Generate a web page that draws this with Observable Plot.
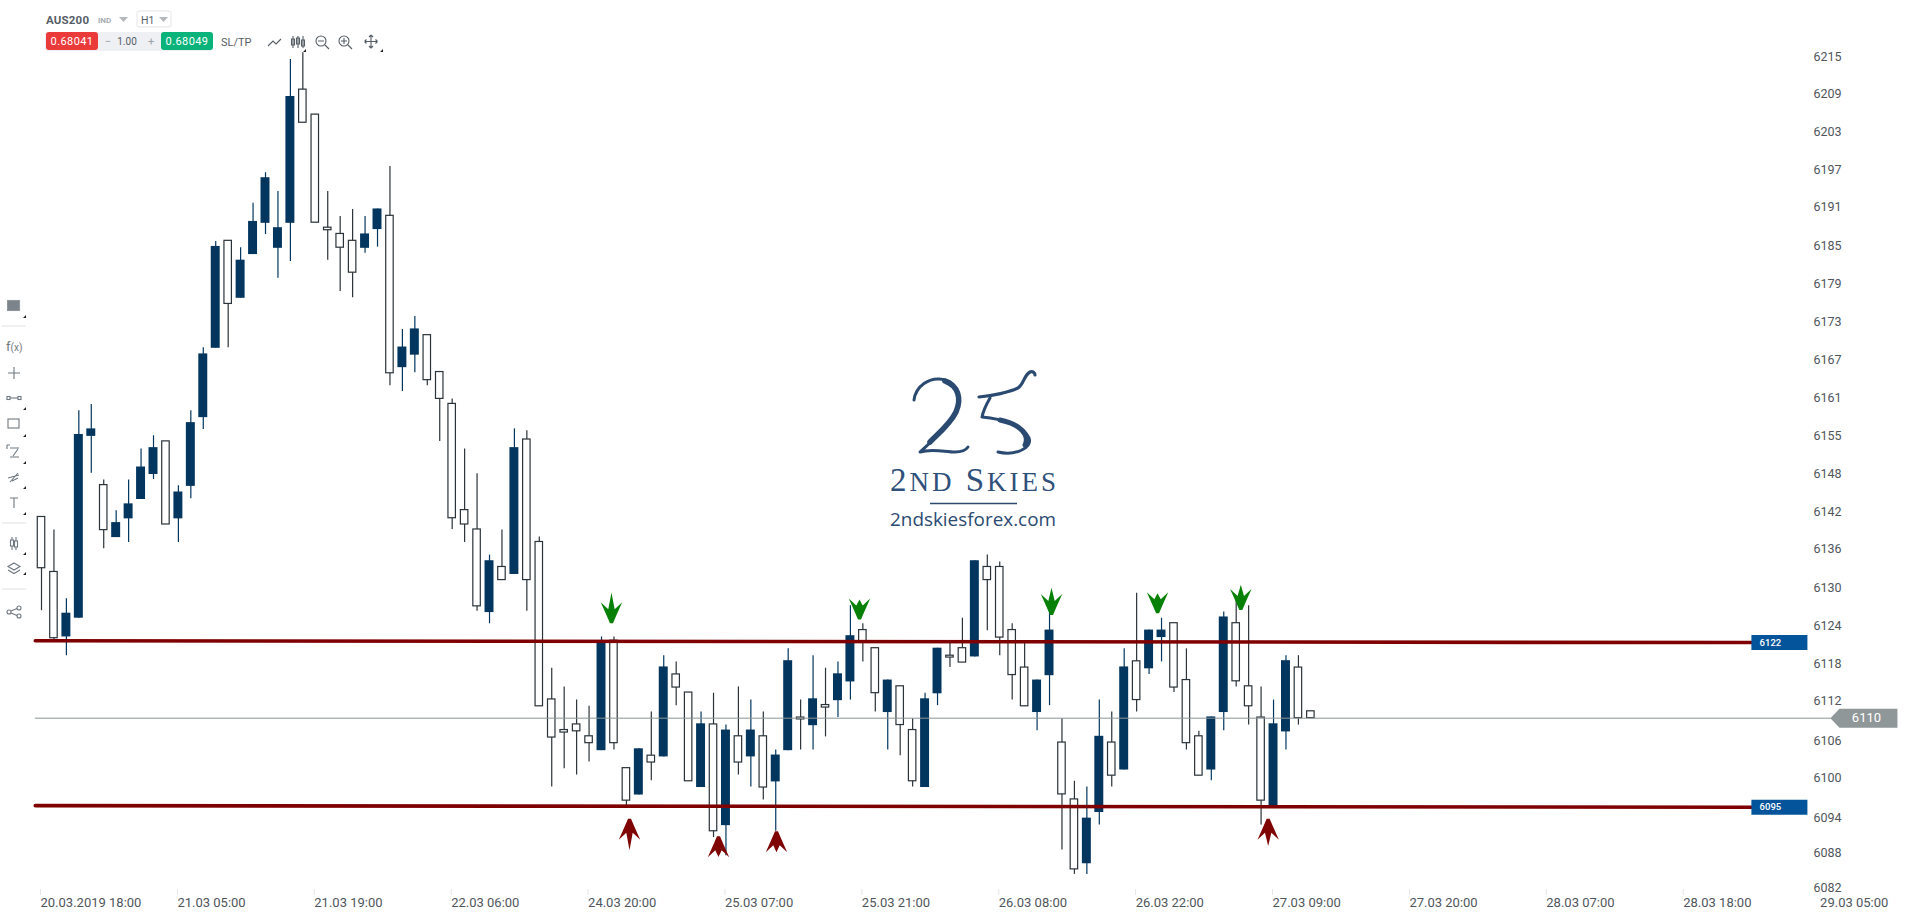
<!DOCTYPE html>
<html>
<head>
<meta charset="utf-8">
<script src="https://cdn.jsdelivr.net/npm/d3@7"></script>
<script src="https://cdn.jsdelivr.net/npm/@observablehq/plot@0.6"></script>
<style>
html,body{margin:0;padding:0;background:#fff;overflow:hidden;width:1907px;height:915px}
#wrap{position:relative;width:1907px;height:915px}
#chart,#overlay{position:absolute;left:0;top:0}
#overlay{pointer-events:none}
#overlay text{font-family:Roboto,sans-serif}
</style>
</head>
<body>
<div id="wrap"><div id="chart"></div>
<svg id="overlay" width="1907" height="915" viewBox="0 0 1907 915" fill="none">
  <!-- top bar -->
  <text x="46" y="24" font-size="11.5" font-weight="700" fill="#565e66" textLength="43">AUS200</text>
  <text x="98" y="23" font-size="8" font-weight="700" fill="#a6acb2">IND</text>
  <path d="M119 17h9l-4.500 5z" fill="#b4b8bc"/>
  <rect x="137" y="11" width="34" height="16" rx="2" fill="#fff" stroke="#e3e5e8"/>
  <text x="141" y="24" font-size="10.500" fill="#565e66">H1</text>
  <path d="M159 17h9l-4.500 5z" fill="#b4b8bc"/>
  <rect x="45" y="32" width="168" height="19" rx="2" fill="#eef0f3"/>
  <rect x="46" y="32" width="52" height="18" rx="3" fill="#ea3a3a"/>
  <text x="72" y="45" font-size="11" fill="#fff" text-anchor="middle" letter-spacing=".4">0.68041</text>
  <text x="108" y="45" font-size="11" fill="#9aa0a6" text-anchor="middle">−</text>
  <text x="127" y="45" font-size="10" fill="#565e66" text-anchor="middle">1.00</text>
  <text x="151" y="45" font-size="11" fill="#9aa0a6" text-anchor="middle">+</text>
  <rect x="161" y="32" width="52" height="18" rx="3" fill="#09b37a"/>
  <text x="187" y="45" font-size="11" fill="#fff" text-anchor="middle" letter-spacing=".4">0.68049</text>
  <text x="221" y="46" font-size="11" fill="#565e66">SL/TP</text>
  <g stroke="#565e66" stroke-width="1.100">
    <path d="M268 46l5-5 3 3 5-5"/>
    <path d="M293 36v12M291.500 39h3v6h-3zM298 36v12M296.500 38h3v6h-3zM303 36v12M301.500 40h3v6h-3z"/>
    <circle cx="321" cy="41" r="5"/><path d="M318 41h6M325 45l4 4"/>
    <circle cx="344" cy="41" r="5"/><path d="M341 41h6M344 38v6M348 45l4 4"/>
    <path d="M371 35v13M364.500 41.500h13M371 35l-2 2M371 35l2 2M371 48l-2-2M371 48l2-2M364.500 41.500l2-2M364.500 41.500l2 2M377.500 41.500l-2-2M377.500 41.500l-2 2"/>
  </g>
  <g fill="#222"><path d="M303 52h3v-3zM380 52h3v-3z"/></g>
  <!-- left toolbar -->
  <g stroke="#6f7880" stroke-width="1.100">
    <rect x="7.500" y="300.500" width="12" height="10" fill="#7b838b" stroke="#8f969c"/>
    <path d="M2 326h24M2 523h24M2 589h24" stroke="#dfe1e3"/>
    <path d="M14 367v12M8 373h12"/>
    <path d="M10 398h8"/><rect x="7" y="396.500" width="3" height="3"/><rect x="18" y="396.500" width="3" height="3"/>
    <rect x="8" y="419" width="11" height="9"/>
    <path d="M10 448h9M13 456l5-7M10 457h9M7 445h3M7 445v4"/>
    <path d="M8 478l11-3M10 482l8-9M12 481l6-3"/>
    <path d="M10 498h8M14 498v10"/>
    <path d="M12 537v13M16 537v13"/><rect x="10.500" y="540" width="3" height="6" fill="#fff"/><rect x="14.500" y="541" width="3" height="6" fill="#fff"/>
    <path d="M14 563l6 3.500-6 3.500-6-3.500zM8 570l6 3.500 6-3.500"/>
    <circle cx="9" cy="612" r="2"/><circle cx="19" cy="608" r="2"/><circle cx="19" cy="616" r="2"/><path d="M11 611l6-2.500M11 613l6 2.500"/>
  </g>
  <text x="6" y="351" font-size="13" fill="#6f7880">f<tspan font-size="10">(x)</tspan></text>
  <g fill="#222"><path d="M23 318h3v-3zM23 410h3v-3zM23 437h3v-3zM23 464h3v-3zM23 489h3v-3zM23 515h3v-3zM23 555h3v-3zM23 575h3v-3z"/></g>
  <!-- watermark -->
  <g stroke="#2b4a72" stroke-linecap="round" stroke-linejoin="round">
    <path d="M914 400C916 385 930 378 940 379C955 380 962 393 958 407C954 422 935 438 920 452C932 448 945 452 955 452C962 452 966 450 968 447" stroke-width="3"/>
    <path d="M945 381C958 386 962 398 956 412C950 424 940 432 930 442" stroke-width="5.500"/>
    <path d="M979 397C992 396 1010 392 1018 388C1024 384 1024 375 1030 372C1033 371 1035 373 1035 375" stroke-width="3.200"/>
    <path d="M990 398C986 405 983 412 982 417C1000 419 1022 423 1029 438C1033 448 1015 456 998 452" stroke-width="3"/>
    <path d="M1000 420C1020 424 1030 435 1025 445" stroke-width="5"/>
  </g>
  <text x="973" y="491" text-anchor="middle" fill="#2f507a" textLength="166" lengthAdjust="spacing" style="font-family:'Liberation Serif',serif;font-size:33px">2<tspan font-size="27" style="font-size:27px">ND</tspan> S<tspan style="font-size:27px">KIES</tspan></text>
  <path d="M930 503.500h87" stroke="#2b4a72" stroke-width="1.300"/>
  <text x="973" y="526" text-anchor="middle" font-size="19" textLength="166" lengthAdjust="spacingAndGlyphs" fill="#2b4a72" style="font-family:'Open Sans',sans-serif">2ndskiesforex.com</text>
</svg>
</div>
<script>
// Candle values (AUS200, H1)
const opens = [6141.3,6132.5,6122.1,6125.1,6154.2,6146.4,6138,6141,6144.1,6148.1,6153.4,6141,6146.2,6157.2,6168.3,6185.5,6176.3,6183.3,6188.3,6184.3,6188.3,6209.7,6205.7,6187.6,6186.6,6185.5,6184.3,6187.3,6189.5,6165.2,6167.2,6170.4,6164.5,6159.4,6142.4,6139.3,6126,6133.3,6132.1,6153.7,6137.3,6112.1,6107.2,6108.1,6106.2,6103.9,6121.5,6101.1,6096.8,6103.1,6102.9,6116.1,6113.2,6098,6108.1,6091.9,6106.2,6102.9,6106.2,6098.9,6103.9,6109.2,6107.9,6111.2,6111.9,6114.9,6123.2,6120.3,6110,6114.2,6107.2,6098,6113,6119.1,6120.3,6118.9,6133.3,6133.3,6123.2,6117.2,6110,6115.9,6105.2,6096.1,6085.8,6094,6105.2,6100.8,6118.2,6117,6122,6124.3,6115.2,6106.2,6100.8,6110,6124.3,6114.2,6109.2,6095,6106.9,6117.2,6110.2];
const closes = [6133.1,6121.9,6125.9,6154.5,6155.4,6139.2,6140.4,6143.4,6149.3,6152.4,6140.1,6145.3,6156.4,6167.4,6184.6,6175.4,6182.4,6188.6,6195.6,6187.6,6208.6,6204.4,6188.4,6187.2,6184.4,6180.4,6186.6,6190.6,6164.3,6168.5,6171.4,6163.2,6160.2,6141.1,6140.1,6127,6134.3,6131.2,6152.4,6131.2,6111,6106,6106.8,6107,6105.1,6121.5,6105.1,6095.9,6104.2,6102,6117.3,6114,6099,6108.2,6091,6107.2,6102,6107.2,6098,6103.2,6118.3,6108.9,6112.2,6110.8,6116.2,6122.3,6121.4,6113.1,6115.2,6108,6099,6112.2,6120.3,6118.8,6118,6134.3,6131.2,6122,6116,6111,6115.2,6123.2,6096.9,6084.9,6093.1,6106.2,6099.9,6117.3,6112,6123.2,6123.2,6114,6105.1,6099.9,6109.3,6125.3,6115,6111,6095.9,6108.2,6118.3,6109.1,6109.1];
const highs = [6141.3,6139.2,6128.2,6158.3,6159.3,6147.2,6142.3,6147.2,6152.2,6154.3,6153.4,6146.3,6158.3,6168.4,6185.4,6185.5,6184.4,6191.5,6196.4,6193.4,6214.5,6215.6,6205.7,6193.4,6189.4,6190.5,6189.4,6190.6,6197.4,6171.3,6173.4,6170.4,6164.5,6160.2,6152.2,6148.2,6135.2,6139.2,6155.4,6155.1,6138.1,6117.1,6114.1,6112,6111,6122.1,6122.1,6101.1,6104.2,6110.1,6119.1,6118.1,6113.2,6110.1,6113.1,6108,6114.1,6112,6110.1,6104,6120.2,6112,6119.1,6117.1,6118.1,6127.1,6124.2,6120.3,6115.2,6114.2,6109,6113.1,6120.3,6121.3,6125.1,6134.3,6135.2,6134.1,6124.2,6121.5,6115.2,6126.3,6109,6099,6098.1,6112,6110.1,6120.2,6129.1,6123.2,6125.1,6124.3,6120.2,6107,6109.3,6126.1,6128.7,6127.1,6114.1,6112,6119.1,6119.1,6110.2];
const lows = [6126.3,6121.5,6119.1,6125.1,6148.3,6136.2,6138,6137.2,6144.1,6147.3,6140.1,6137.2,6144.2,6155.3,6168.3,6168.4,6176.3,6183.3,6186.5,6179.5,6182.2,6204.4,6188.4,6182.4,6177.4,6176.4,6183.5,6184.5,6162.3,6161.4,6164.4,6162.3,6153.4,6139.3,6137.2,6126.2,6124.2,6131.2,6132.1,6126.2,6111,6098.1,6101,6100,6102.1,6103.9,6104,6094.9,6096.8,6099.1,6102.9,6111.1,6099,6098,6090,6087.1,6100,6098.1,6096,6091,6103.9,6104,6104,6106.1,6109.2,6112,6118.1,6110.1,6104,6103.1,6098.1,6098,6111.1,6117.2,6118,6118.9,6123.1,6119.1,6112,6111,6107.1,6111.1,6088,6084.1,6084.1,6092,6098.1,6100.8,6110.1,6116.1,6118.1,6113.2,6104,6099.9,6099.1,6107.1,6114.1,6108,6092,6095,6104,6108,6109.1];

// Axis labels
const priceTicks = [6215,6208.96,6202.92,6196.88,6190.84,6184.6,6178.6,6172.5,6166.5,6160.3,6154.2,6148.2,6142.1,6136.1,6129.9,6123.8,6117.8,6111.8,6105.5,6099.5,6093.2,6087.6,6082];
const priceTickLabels = ["6215","6209","6203","6197","6191","6185","6179","6173","6167","6161","6155","6148","6142","6136","6130","6124","6118","6112","6106","6100","6094","6088","6082"];
const dateTickIndex = [0,11,22,33,44,55,66,77,88,99,110,121,132,143];
const dateTickLabels = ["20.03.2019 18:00","21.03 05:00","21.03 19:00","22.03 06:00","24.03 20:00","25.03 07:00","25.03 21:00","26.03 08:00","26.03 22:00","27.03 09:00","27.03 20:00","28.03 07:00","28.03 18:00","29.03 05:00"];

// Horizontal levels
const levelNames = ["6122","6095"];
const levelStartPrice = [6121.5,6095.1];
const levelEndPrice = [6121.2,6094.85];
const levelStartIndex = -0.5, levelEndIndex = 137.4;
const lastPrice = 6109.1, lastPriceLabel = "6110", lastPriceEnd = 143.75;

// Arrows
const arrowIndex = [45.8,65.73,81.16,89.68,96.37,47.25,54.4,59.06,98.57];
const arrowPrice = [6124.3,6124.9,6125.6,6125.9,6126.4,6093,6090.2,6091,6093];
const arrowLength = [30.6,20,27.3,20,25.3,31.6,20.7,21,27.3];
const arrowIsDown = [true,true,true,true,true,false,false,false,false];

const candles = opens.map((o,i)=>({i,open:o,close:closes[i],high:highs[i],low:lows[i],up:closes[i]>o}));
const dateLabelOf = new Map(dateTickIndex.map((d,k)=>[d,dateTickLabels[k]]));
const priceLabelOf = new Map(priceTicks.map((d,k)=>[d,priceTickLabels[k]]));
const navy="#03365f", ink="#2a3339", wine="#7f0000";

function arrowSymbol(len,down){
  const s=down?1:-1;
  return {draw(c){
    c.moveTo(-1.5,0);c.lineTo(1.5,0);
    c.lineTo(4.5,-7*s);c.lineTo(10.7,-21*s);c.lineTo(3.2,-14*s);c.lineTo(0,-len*s);
    c.lineTo(-3.2,-14*s);c.lineTo(-10.7,-21*s);c.lineTo(-4.5,-7*s);c.closePath();
  }};
}
const tagBox={draw(c){c.rect(0,-7.5,56,15);}};
const lastTag={draw(c){c.moveTo(0,0);c.lineTo(9,-9.5);c.lineTo(67,-9.5);c.lineTo(67,9.5);c.lineTo(9,9.5);c.closePath();}};

const plot = Plot.plot({
  width:1907,height:915,
  marginLeft:0,marginTop:0,marginRight:94,marginBottom:26,
  x:{type:"linear",domain:[0,143],range:[41,1820.6]},
  y:{type:"linear",domain:[6215,6082],range:[56,887]},
  style:{fontFamily:"Roboto, sans-serif",fontSize:"12.5px",color:"#4f565c",background:"transparent",overflow:"visible"},
  marks:[
    Plot.axisY({anchor:"right",ticks:priceTicks,tickFormat:d=>priceLabelOf.get(d),tickSize:0,tickPadding:0,label:null,fontSize:12.5}),
    Plot.axisX({anchor:"bottom",ticks:dateTickIndex,tickFormat:d=>dateLabelOf.get(d),tickSize:6,tickPadding:2,stroke:"#e4e6e8",textAnchor:"start",label:null,fontSize:13,dx:-1}),
    Plot.ruleX(candles,{x:"i",y1:"low",y2:"high",stroke:d=>d.up?navy:ink,strokeWidth:1.2}),
    Plot.rect(candles.filter(d=>d.up),{x1:d=>d.i-0.36,x2:d=>d.i+0.36,y1:"open",y2:"close",fill:navy,inset:0}),
    Plot.rect(candles.filter(d=>!d.up),{x1:d=>d.i-0.3,x2:d=>d.i+0.3,y1:"open",y2:"close",fill:"#fff",stroke:ink,strokeWidth:1.2,inset:0}),
    Plot.line([[levelStartIndex,lastPrice],[lastPriceEnd,lastPrice]],{x:"0",y:"1",stroke:"#8b9494",strokeWidth:1}),
    ...levelNames.map((n,k)=>Plot.line([[levelStartIndex,levelStartPrice[k]],[levelEndIndex,levelEndPrice[k]]],{x:"0",y:"1",stroke:wine,strokeWidth:3.6})),
    ...levelNames.map((n,k)=>Plot.dot([k],{x:()=>levelEndIndex,y:()=>levelEndPrice[k],symbol:tagBox,fill:"#03549a",stroke:"none"})),
    ...levelNames.map((n,k)=>Plot.text([n],{x:()=>levelEndIndex,y:()=>levelEndPrice[k],text:d=>d,dx:19,fill:"#fff",fontSize:9.5,fontWeight:500})),
    Plot.dot([lastPrice],{x:()=>lastPriceEnd,y:d=>d,symbol:lastTag,fill:"#8f9799",stroke:"none"}),
    Plot.text([lastPriceLabel],{x:()=>lastPriceEnd,y:()=>lastPrice,text:d=>d,dx:36,fill:"#fff",fontSize:13}),
    ...arrowIndex.map((a,k)=>Plot.dot([k],{x:()=>a,y:()=>arrowPrice[k],symbol:arrowSymbol(arrowLength[k],arrowIsDown[k]),fill:arrowIsDown[k]?"#078007":"#7f0404",stroke:"none"}))
  ]
});
document.getElementById("chart").appendChild(plot);
</script>
</body>
</html>
